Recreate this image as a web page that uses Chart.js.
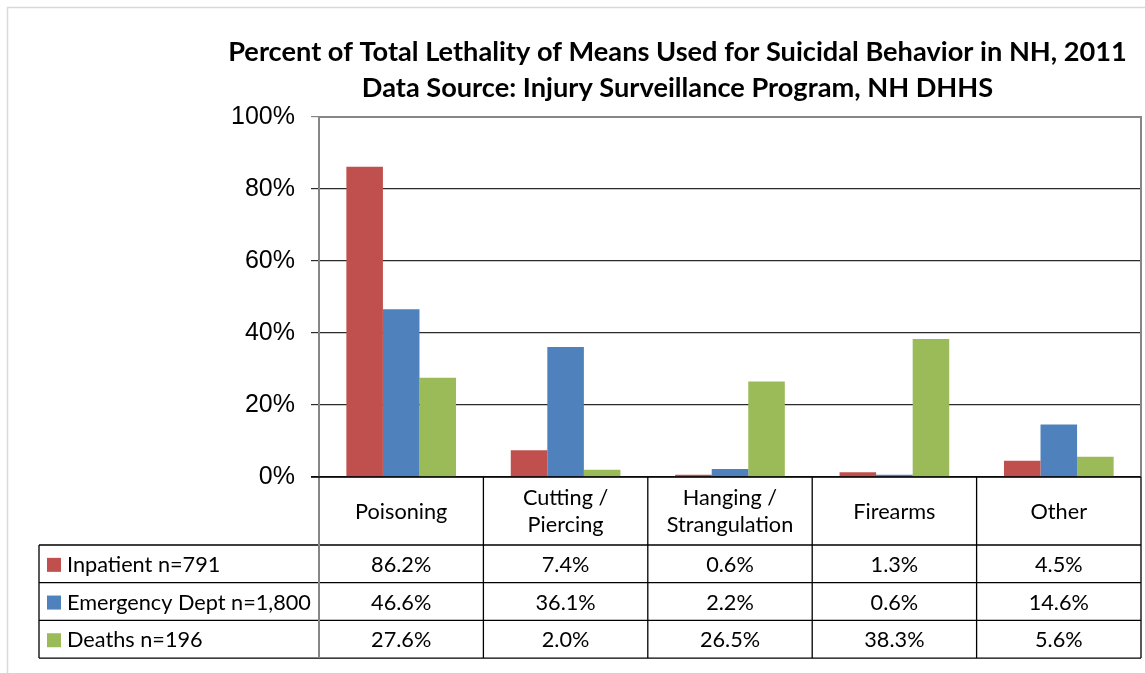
<!DOCTYPE html>
<html>
<head>
<meta charset="utf-8">
<script src="https://cdn.jsdelivr.net/npm/chart.js@4.4.1/dist/chart.umd.min.js"></script>
<style>
  html, body { margin: 0; padding: 0; background: #fff; }
  #wrap { position: relative; width: 1145px; height: 673px; overflow: hidden; }
  canvas { display: block; }
</style>
</head>
<body>
<div id="wrap"><canvas id="c" width="1145" height="673"></canvas></div>
<script>
// ---- Data ----
const categories = [['Poisoning'], ['Cutting /', 'Piercing'], ['Hanging /', 'Strangulation'], ['Firearms'], ['Other']];
const seriesNames = ['Inpatient n=791', 'Emergency Dept n=1,800', 'Deaths n=196'];
const inpatient = [86.2, 7.4, 0.6, 1.3, 4.5];
const emergency = [46.6, 36.1, 2.2, 0.6, 14.6];
const deaths = [27.6, 2.0, 26.5, 38.3, 5.6];
const yTicks = [0, 20, 40, 60, 80, 100];
const titleLines = ['Percent of Total Lethality of Means Used for Suicidal Behavior in NH, 2011',
                    'Data Source: Injury Surveillance Program, NH DHHS'];
const colors = ['#C0504D', '#4F81BD', '#9BBB59'];

// ---- Font fitting helpers ----
const mctx = document.createElement('canvas').getContext('2d');
function fitSize(text, font, target) {
  mctx.font = font.replace('{s}', '40px');
  return 40 * target / mctx.measureText(text).width;
}
const TITLE_FAM = 'Lato, "Open Sans", sans-serif';
const titleSize = fitSize(titleLines[0], 'bold {s} ' + TITLE_FAM, 899);
const tableSize = Math.min(24, fitSize(seriesNames[1], '{s} ' + TITLE_FAM, 244));

const seriesData = [inpatient, emergency, deaths];

const tablePlugin = {
  id: 'tablePlugin',
  beforeDraw(chart) {
    const c = chart.ctx;
    c.save();
    c.fillStyle = '#fff';
    c.fillRect(0, 0, chart.width, chart.height);
    // outer chart frame
    c.strokeStyle = '#d9d9d9';
    c.lineWidth = 1.5;
    c.beginPath();
    c.moveTo(7.5, 700); c.lineTo(7.5, 7.5); c.lineTo(1200, 7.5);
    c.stroke();
    c.restore();
  },
  afterDraw(chart) {
    const c = chart.ctx;
    const a = chart.chartArea;
    const xs = chart.scales.x;
    const n = categories.length;
    const cw = a.width / n;
    c.save();
    // title
    c.fillStyle = '#000';
    c.textAlign = 'center';
    c.textBaseline = 'middle';
    c.font = 'bold ' + titleSize.toFixed(2) + 'px ' + TITLE_FAM;
    c.fillText(titleLines[0], 677.5, 52);
    c.fillText(titleLines[1], 677.5, 88);

    // plot border (top/right)
    c.strokeStyle = '#868686';
    c.lineWidth = 2;
    c.beginPath();
    c.moveTo(a.left, a.top); c.lineTo(a.right, a.top); c.lineTo(a.right, a.bottom);
    c.stroke();

    // table geometry
    const headTop = a.bottom;
    const headBot = 545;
    const rowH = 37.7;
    const rows = [headBot, headBot + rowH, headBot + 2 * rowH, headBot + 3 * rowH];
    const tableLeft = 39;
    const bounds = [];
    for (let i = 0; i <= n; i++) bounds.push(xs.getPixelForValue(i - 0.5));

    c.strokeStyle = '#000';
    c.lineWidth = 1.3;
    c.beginPath();
    rows.forEach(y => { c.moveTo(tableLeft, y); c.lineTo(a.right, y); });
    c.moveTo(tableLeft, headBot); c.lineTo(tableLeft, rows[3]);
    for (let i = 1; i <= n; i++) {
      c.moveTo(bounds[i], headTop); c.lineTo(bounds[i], rows[3]);
    }
    c.stroke();
    c.strokeStyle = '#868686';
    c.lineWidth = 2;
    c.beginPath();
    c.moveTo(bounds[0], headTop); c.lineTo(bounds[0], rows[3]);
    c.stroke();
    // x axis line
    c.strokeStyle = '#000';
    c.lineWidth = 1.5;
    c.beginPath();
    c.moveTo(a.left - 8, a.bottom); c.lineTo(a.right, a.bottom);
    c.stroke();

    // header labels
    c.fillStyle = '#000';
    c.font = tableSize.toFixed(2) + 'px ' + TITLE_FAM;
    c.textAlign = 'center';
    c.textBaseline = 'middle';
    const headMid = (headTop + headBot) / 2 + 0.5;
    categories.forEach((lines, i) => {
      const cx = xs.getPixelForValue(i);
      const lh = 27.5;
      lines.forEach((t, j) => {
        c.fillText(t, cx, headMid + (j - (lines.length - 1) / 2) * lh);
      });
    });
    // rows
    seriesData.forEach((arr, r) => {
      const cy = rows[r] + rowH / 2 + 1;
      c.fillStyle = colors[r];
      c.fillRect(47, cy - 7, 14, 14);
      c.fillStyle = '#000';
      c.textAlign = 'left';
      c.fillText(seriesNames[r], 67, cy);
      c.textAlign = 'center';
      arr.forEach((v, i) => {
        c.fillText(v.toFixed(1) + '%', xs.getPixelForValue(i), cy);
      });
    });
    c.restore();
  }
};

new Chart(document.getElementById('c'), {
  type: 'bar',
  data: {
    labels: categories.map(l => l.join(' ')),
    datasets: seriesNames.map((name, i) => ({
      label: name,
      data: seriesData[i],
      backgroundColor: colors[i],
      borderWidth: 0,
      categoryPercentage: 0.667,
      barPercentage: 1.0
    }))
  },
  options: {
    responsive: false,
    animation: false,
    devicePixelRatio: 1,
    layout: { padding: { left: 0, right: 4, top: 117, bottom: 0 } },
    plugins: { legend: { display: false }, title: { display: false }, tooltip: { enabled: false } },
    scales: {
      x: {
        grid: { display: false, drawTicks: false },
        border: { display: false },
        ticks: { display: false },
        afterFit: s => { s.height = 673 - 477; }
      },
      y: {
        min: 0, max: 100,
        afterFit: s => { s.width = 319; },
        afterBuildTicks: s => { s.ticks = yTicks.map(v => ({ value: v })); },
        ticks: {
          padding: 16,
          color: '#000',
          font: { family: '"Liberation Sans", Arial, sans-serif', size: 25 },
          callback: v => v + '%'
        },
        grid: {
          color: ctx => ctx.tick && ctx.tick.value === 100 ? '#868686' : '#2b2b2b',
          lineWidth: 1.2,
          tickLength: 8,
          drawOnChartArea: true
        },
        border: { color: '#868686', width: 2 }
      }
    }
  },
  plugins: [tablePlugin]
});
</script>
</body>
</html>
